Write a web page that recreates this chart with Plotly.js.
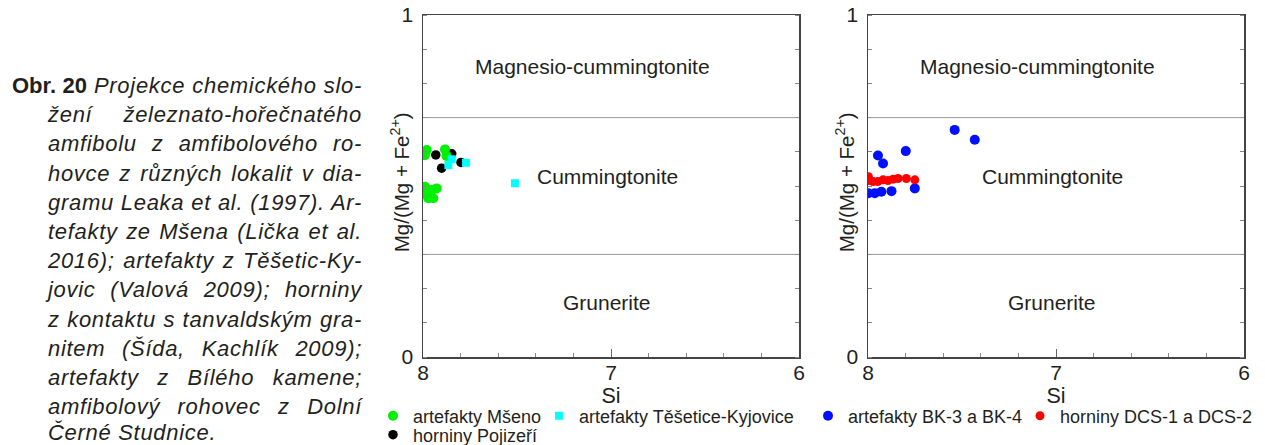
<!DOCTYPE html>
<html>
<head>
<meta charset="utf-8">
<script src="https://cdn.plot.ly/plotly-3.0.1.min.js"></script>
<style>
  html, body { margin: 0; padding: 0; background: #fff; }
  #wrap { position: relative; width: 1265px; height: 445px; overflow: hidden; }
  #chart { position: absolute; left: 0; top: 0; width: 1265px; height: 445px; }
  #caption {
    position: absolute; left: 12px; top: 71px; width: 350px;
    font-family: "Liberation Sans", Arial, Helvetica, sans-serif;
    font-size: 22px; line-height: 29.2px; color: #231f20; font-style: italic;
  }
  #caption div { text-align: justify; text-align-last: justify; white-space: nowrap; letter-spacing: 0.7px; }
  #caption div.ind { padding-left: 36px; }
  #caption div.last { text-align-last: left; line-height: 24px; }
  #caption b { font-style: normal; letter-spacing: 0; }
</style>
</head>
<body>
<div id="wrap">
  <div id="chart"></div>
  <div id="caption">
    <div><b>Obr.&nbsp;20</b> Projekce chemického slo-</div>
    <div class="ind">žení železnato-hořečnatého</div>
    <div class="ind">amfibolu z amfibolového ro-</div>
    <div class="ind">hovce z různých lokalit v dia-</div>
    <div class="ind">gramu Leaka et al. (1997). Ar-</div>
    <div class="ind">tefakty ze Mšena (Lička et al.</div>
    <div class="ind">2016); artefakty z Těšetic-Ky-</div>
    <div class="ind">jovic (Valová 2009); horniny</div>
    <div class="ind">z kontaktu s tanvaldským gra-</div>
    <div class="ind">nitem (Šída, Kachlík 2009);</div>
    <div class="ind">artefakty z Bílého kamene;</div>
    <div class="ind">amfibolový rohovec z Dolní</div>
    <div class="ind last">Černé Studnice.</div>
  </div>
</div>
<script>
// Amphibole classification (Leake et al. 1997): Si vs Mg/(Mg + Fe2+)

// Left diagram
const msenoSi   = [7.990, 7.980, 7.883, 7.875, 7.989, 7.998, 7.972, 7.945, 7.927, 7.954, 7.980];
const msenoMg   = [0.590, 0.605, 0.607, 0.588, 0.498, 0.479, 0.464, 0.464, 0.493, 0.488, 0.483];
const tesSi     = [7.865, 7.847, 7.771, 7.511];
const tesMg     = [0.561, 0.578, 0.568, 0.508];
const pojSi     = [7.932, 7.847, 7.901, 7.798];
const pojMg     = [0.591, 0.594, 0.552, 0.569];

// Right diagram
const bkSi      = [7.539, 7.432, 7.799, 7.947, 7.920, 7.751, 7.875, 7.998, 7.964, 7.929];
const bkMg      = [0.664, 0.635, 0.602, 0.589, 0.566, 0.493, 0.485, 0.479, 0.479, 0.483];
const dcsSi     = [7.998, 7.991, 7.973, 7.947, 7.920, 7.894, 7.867, 7.840, 7.796, 7.751];
const dcsMg     = [0.527, 0.516, 0.513, 0.513, 0.518, 0.516, 0.520, 0.522, 0.522, 0.518];

// Field boundaries and field names
const fieldBounds = [0.3, 0.7];
const fieldNames  = ["Magnesio-cummingtonite", "Cummingtonite", "Grunerite"];
const fieldSi     = [7.10, 7.02, 7.02];
const fieldMg     = [0.85, 0.527, 0.158];

const siTicks = [8, 7, 6];
const mgTicks = [0, 1];
const mgTitle = 'Mg/(Mg + Fe<sup>2+</sup>)';

const FONT = '"Liberation Sans", Arial, Helvetica, sans-serif';
const TXT = '#231f20';
const W = 1265, H = 445;

const traces = [
  { x: pojSi, y: pojMg, name: 'horniny Pojizeří', type: 'scatter', mode: 'markers',
    xaxis: 'x', yaxis: 'y', legend: 'legend3',
    marker: { color: '#000000', size: 9.5, symbol: 'circle' } },
  { x: msenoSi, y: msenoMg, name: 'artefakty Mšeno', type: 'scatter', mode: 'markers',
    xaxis: 'x', yaxis: 'y', legend: 'legend',
    marker: { color: '#00f000', size: 10, symbol: 'circle' } },
  { x: tesSi, y: tesMg, name: 'artefakty Těšetice-Kyjovice', type: 'scatter', mode: 'markers',
    xaxis: 'x', yaxis: 'y', legend: 'legend2',
    marker: { color: '#00ffff', size: 8, symbol: 'square' } },
  { x: bkSi, y: bkMg, name: 'artefakty BK-3 a BK-4', type: 'scatter', mode: 'markers',
    xaxis: 'x2', yaxis: 'y2', legend: 'legend4',
    marker: { color: '#0010ff', size: 10, symbol: 'circle' } },
  { x: dcsSi, y: dcsMg, name: 'horniny DCS-1 a DCS-2', type: 'scatter', mode: 'markers',
    xaxis: 'x2', yaxis: 'y2', legend: 'legend5',
    marker: { color: '#ff0000', size: 9, symbol: 'circle' } }
];

function xAxis(domain, anchor) {
  return {
    domain: domain, anchor: anchor, range: [8, 6], tickvals: siTicks,
    ticks: 'inside', ticklen: 8, tickwidth: 1, tickcolor: '#666',
    minor: { dtick: 0.2, tick0: 0, ticks: 'inside', ticklen: 4, tickcolor: '#888', showgrid: false },
    showline: true, linecolor: '#444', linewidth: 1.5, mirror: true,
    showgrid: false, zeroline: false, ticklabelstandoff: -4,
    tickfont: { family: FONT, size: 21, color: TXT },
    title: { text: 'Si', font: { family: FONT, size: 21.5, color: TXT }, standoff: 0 }
  };
}
function yAxis(domain, anchor) {
  return {
    domain: domain, anchor: anchor, range: [0, 1], tickvals: mgTicks,
    ticks: '',
    minor: { dtick: 0.1, tick0: 0, ticks: 'inside', ticklen: 4, tickcolor: '#888', showgrid: false },
    showline: true, linecolor: '#444', linewidth: 1.5, mirror: 'ticks',
    showgrid: false, zeroline: false, ticklabelstandoff: 4,
    tickfont: { family: FONT, size: 21, color: TXT }
  };
}

const yDom = [1 - 357 / H, 1 - 15 / H];
const panels = [
  { xa: 'x', ya: 'y', xdom: [423 / W, 799 / W] },
  { xa: 'x2', ya: 'y2', xdom: [868 / W, 1244 / W] }
];

const shapes = [];
const annotations = [];
panels.forEach(p => {
  fieldBounds.forEach(b => {
    shapes.push({ type: 'line', xref: p.xa + ' domain', yref: p.ya, x0: 0, x1: 1, y0: b, y1: b,
      line: { color: '#999', width: 1 } });
  });
  fieldNames.forEach((n, i) => {
    annotations.push({ xref: p.xa, yref: p.ya, x: fieldSi[i], y: fieldMg[i], text: n,
      showarrow: false, xanchor: 'center', yanchor: 'middle',
      font: { family: FONT, size: 21, color: TXT } });
  });
  // vertical axis title, set close to the frame
  annotations.push({ xref: p.xa + ' domain', yref: p.ya + ' domain', x: -0.062, y: 0.51,
    text: mgTitle, textangle: -90, showarrow: false, xanchor: 'center', yanchor: 'middle',
    font: { family: FONT, size: 20.5, color: TXT } });
});

function legendAt(px, py) {
  return { x: px / W, y: 1 - py / H, xanchor: 'left', yanchor: 'middle', orientation: 'h',
    bgcolor: 'rgba(0,0,0,0)', borderwidth: 0, font: { family: FONT, size: 18, color: TXT },
    maxheight: 80, itemclick: false, itemdoubleclick: false };
}

const layout = {
  width: W, height: H,
  margin: { l: 0, r: 0, t: 0, b: 0, autoexpand: false },
  paper_bgcolor: '#ffffff', plot_bgcolor: '#ffffff',
  showlegend: true,
  xaxis: xAxis(panels[0].xdom, 'y'),
  yaxis: yAxis(yDom, 'x'),
  xaxis2: xAxis(panels[1].xdom, 'y2'),
  yaxis2: yAxis(yDom, 'x2'),
  legend:  legendAt(373, 416),
  legend2: legendAt(539, 416),
  legend3: legendAt(373, 435),
  legend4: legendAt(808, 416),
  legend5: legendAt(1020, 416),
  shapes: shapes,
  annotations: annotations
};

Plotly.newPlot('chart', traces, layout, { displayModeBar: false, staticPlot: true });
</script>
</body>
</html>
